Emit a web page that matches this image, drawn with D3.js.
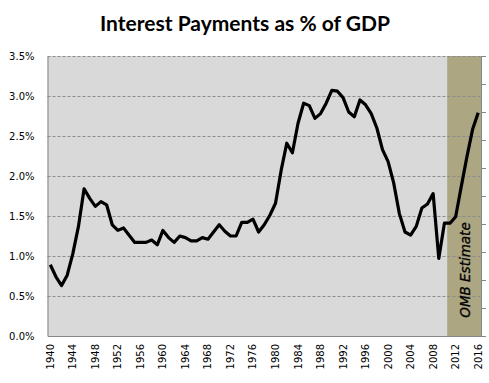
<!DOCTYPE html>
<html><head><meta charset="utf-8">
<script src="https://cdn.jsdelivr.net/npm/d3@7"></script>
<style>body{margin:0;background:#fff;} svg{display:block;}</style>
</head><body>
<script>
const years = d3.range(1940, 2017);
const values = [0.89,0.74,0.63,0.76,1.03,1.37,1.84,1.72,1.62,1.68,1.64,1.39,1.32,1.35,1.26,1.17,1.17,1.17,1.20,1.14,
  1.32,1.23,1.17,1.25,1.23,1.19,1.19,1.23,1.21,1.30,1.39,1.31,1.25,1.25,1.42,1.42,1.46,1.30,1.39,1.51,
  1.66,2.07,2.41,2.29,2.66,2.91,2.88,2.72,2.78,2.91,3.07,3.06,2.98,2.80,2.74,2.95,2.89,2.78,2.60,2.33,
  2.18,1.91,1.53,1.30,1.26,1.37,1.60,1.65,1.78,0.97,1.41,1.41,1.49,1.87,2.24,2.58,2.79];
const yTicks = [0,0.5,1.0,1.5,2.0,2.5,3.0,3.5];
const xTickYears = d3.range(1940, 2017, 4);
const estimateStart = 2011;
const title = "Interest Payments as % of GDP";
const estimateLabel = "OMB Estimate";

const W = 489, H = 383;
const L = 47.5, R = 481, T = 56, B = 336;
const svg = d3.select("body").append("svg").attr("width", W).attr("height", H);

const x = d3.scaleBand().domain(years).range([L, R]).padding(0);
const y = d3.scaleLinear().domain([0, 3.5]).range([B, T]);

svg.append("rect").attr("x", L).attr("y", T).attr("width", R - L).attr("height", B - T).attr("fill", "#d9d9d9");
svg.append("rect").attr("x", x(estimateStart)).attr("y", T).attr("width", R - x(estimateStart)).attr("height", B - T).attr("fill", "#aca682");

// gridlines
svg.append("g").selectAll("line").data(yTicks.filter(d => d > 0)).join("line")
  .attr("x1", L).attr("x2", R).attr("y1", d => Math.round(y(d)) + 0.5).attr("y2", d => Math.round(y(d)) + 0.5)
  .attr("stroke", "#8c8c8c").attr("stroke-width", 1).attr("stroke-dasharray", "3,2");

// left axis
const yAxis = d3.axisLeft(y).tickValues(yTicks).tickSize(0).tickPadding(13).tickFormat(d => d.toFixed(1) + "%");
const gy = svg.append("g").attr("transform", `translate(${L},0)`).call(yAxis);
gy.select(".domain").attr("stroke", "#868686");
gy.selectAll("text").attr("font-family", "DejaVu Sans").attr("font-size", 10).attr("fill", "#000");

// bottom axis
const xAxis = d3.axisBottom(x).tickValues(xTickYears).tickSize(0).tickPadding(0);
const gx = svg.append("g").attr("transform", `translate(0,${B})`).call(xAxis);
gx.select(".domain").attr("stroke", "#868686");
gx.selectAll("text").attr("font-family", "DejaVu Sans").attr("font-size", 10).attr("fill", "#000")
  .attr("text-anchor", "end").attr("transform", "rotate(-90)").attr("x", -8).attr("y", 0).attr("dy", "0.35em");

// right axis (no labels)
const y2 = d3.scaleLinear().domain([0, 10]).range([B, T]);
const gr = svg.append("g").attr("transform", `translate(${R},0)`).call(d3.axisRight(y2).ticks(10).tickSize(5).tickSizeOuter(0).tickFormat(""));
gr.select(".domain").attr("stroke", "#868686");
gr.selectAll("line").attr("stroke", "#868686");

// line
const line = d3.line().x((d, i) => x(years[i]) + x.bandwidth() / 2).y(d => y(d));
svg.append("path").datum(values).attr("d", line).attr("fill", "none").attr("stroke", "#000")
  .attr("stroke-width", 3.2).attr("stroke-linejoin", "round");

// estimate label
const ex = (x(estimateStart) + R) / 2 + 1;
svg.append("text").attr("transform", `translate(${ex},270) rotate(-90)`).attr("text-anchor", "middle")
  .attr("dy", "0.35em").attr("font-family", "DejaVu Sans").attr("font-style", "italic").attr("font-size", 13.5)
  .attr("stroke", "#000").attr("stroke-width", 0.3)
  .attr("fill", "#000").text(estimateLabel);

// title
svg.append("text").attr("x", 245).attr("y", 31).attr("text-anchor", "middle").attr("font-family", "Lato")
  .attr("font-weight", "bold").attr("font-size", 21).attr("fill", "#000").text(title);
</script>
</body></html>
